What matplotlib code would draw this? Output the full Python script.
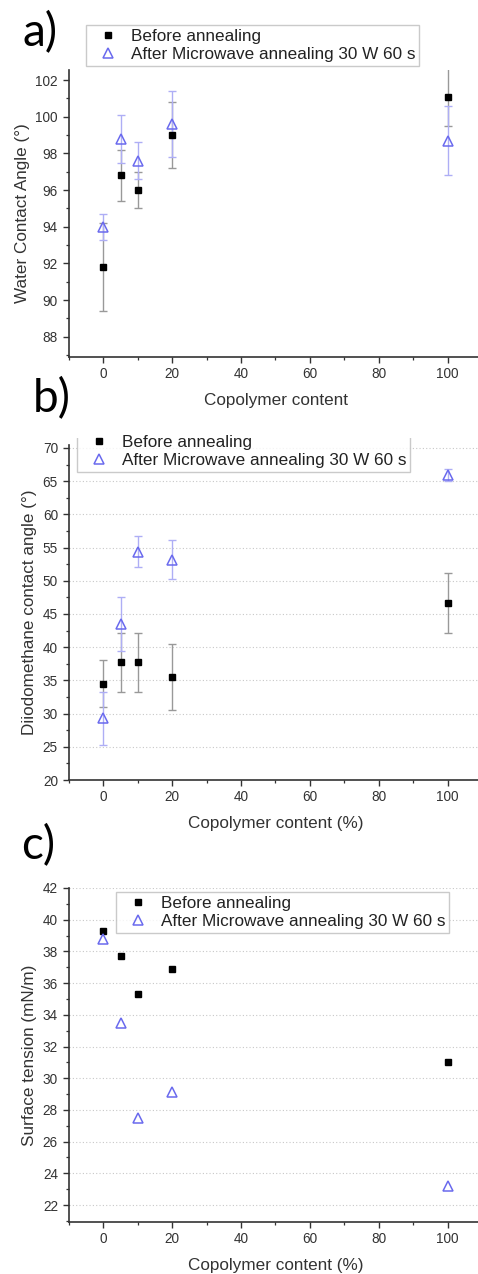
import matplotlib
matplotlib.use("Agg")
import matplotlib.pyplot as plt
from matplotlib.ticker import MultipleLocator
from matplotlib.transforms import Bbox, TransformedBbox
import numpy as np

plt.rcParams['font.family'] = ['Liberation Sans', 'DejaVu Sans']

x = [0, 5, 10, 20, 100]
lbl_before = 'Before annealing'
lbl_after = 'After Microwave annealing 30 W 60 s'

# a) water contact angle
wca_before = [91.8, 96.8, 96.0, 99.0, 101.1]
wca_before_err = [2.4, 1.4, 1.0, 1.8, 1.6]
wca_after = [94.0, 98.8, 97.6, 99.6, 98.7]
wca_after_err = [0.7, 1.3, 1.0, 1.8, 1.9]

# b) diiodomethane contact angle
dim_before = [34.5, 37.7, 37.7, 35.5, 46.6]
dim_before_err = [3.5, 4.5, 4.5, 5.0, 4.5]
dim_after = [29.3, 43.5, 54.4, 53.2, 66.0]
dim_after_err = [4.0, 4.0, 2.3, 3.0, 0.9]

# c) surface tension
st_before = [39.3, 37.7, 35.3, 36.9, 31.0]
st_after = [38.8, 33.5, 27.5, 29.1, 23.2]

blk = 'black'
blue = '#6a6aee'
ebar_blk = '#999999'
ebar_blue = '#aeaef5'
axcol = '#333333'

fig = plt.figure(figsize=(4.78, 12.74), dpi=100)
W, H = 478, 1274

def make_ax(left, top, bottom, right=482):
    return fig.add_axes([left / W, 1 - bottom / H, (right - left) / W, (bottom - top) / H])

def style(ax, ymaj, ymin, grid):
    ax.set_xlim(-10, 110)
    ax.xaxis.set_major_locator(MultipleLocator(20))
    ax.xaxis.set_minor_locator(MultipleLocator(10))
    ax.yaxis.set_major_locator(MultipleLocator(ymaj))
    ax.yaxis.set_minor_locator(MultipleLocator(ymin))
    for s in ['top', 'right']:
        ax.spines[s].set_visible(False)
    for s in ['left', 'bottom']:
        ax.spines[s].set_color(axcol)
        ax.spines[s].set_linewidth(1.2)
    ax.tick_params(which='major', direction='out', length=4, width=1, color=axcol,
                   labelsize=9.8, labelcolor='#333333')
    ax.tick_params(axis='y', which='major', pad=4)
    ax.tick_params(axis='x', which='major', pad=3.5)
    ax.tick_params(which='minor', direction='out', length=2.5, width=0.9, color=axcol)
    if grid:
        ax.yaxis.grid(True, which='major', linestyle=(0, (1, 2)), color='#c8c8c8', linewidth=0.8)
        ax.set_axisbelow(True)

def points(ax, yb, ya, eb=None, ea=None):
    if eb is not None:
        ax.errorbar(x, yb, yerr=eb, fmt='none', ecolor=ebar_blk, elinewidth=1.0,
                    capsize=2.8, capthick=1.0)
        ax.errorbar(x, ya, yerr=ea, fmt='none', ecolor=ebar_blue, elinewidth=1.0,
                    capsize=2.8, capthick=1.0)
    ax.plot(x, yb, 's', color=blk, markersize=5, linestyle='none', label=lbl_before)
    ax.plot(x, ya, '^', markerfacecolor='none', markeredgecolor=blue, markeredgewidth=1.1,
            markersize=7, linestyle='none', label=lbl_after)

def legend(ax, x0, y0):
    leg = ax.legend(loc='upper left', bbox_to_anchor=(x0 / W, 1 - y0 / H),
                    bbox_transform=fig.transFigure, fontsize=12.3, frameon=True,
                    fancybox=False, edgecolor='#bdbdbd', handlelength=2.1,
                    handletextpad=0.3, borderpad=0.22, labelspacing=0.2,
                    borderaxespad=0, markerscale=1.0)
    leg.get_frame().set_linewidth(1.0)
    for t in leg.get_texts():
        t.set_color('#222222')
    return leg

def labels(ax, ylab, xlab):
    ax.set_ylabel(ylab, fontsize=12.3, color='#333333', labelpad=4)
    ax.set_xlabel(xlab, fontsize=12.3, color='#333333', labelpad=8)

# panel a
ax1 = make_ax(69, 70, 357)
style(ax1, 2, 1, False)
points(ax1, wca_before, wca_after, wca_before_err, wca_after_err)
ax1.set_ylim(86.9, 102.55)
labels(ax1, 'Water Contact Angle (°)', 'Copolymer content')
legend(ax1, 86, 25)

# panel b
ax2 = make_ax(69, 445, 780)
style(ax2, 5, 2.5, True)
points(ax2, dim_before, dim_after, dim_before_err, dim_after_err)
ax2.set_ylim(20, 70.45)
labels(ax2, 'Diiodomethane contact angle (°)', 'Copolymer content (%)')
leg2 = legend(ax2, 77, 431)
leg2.get_frame().set_clip_on(True)
leg2.get_frame().set_clip_box(TransformedBbox(Bbox([[0, 0], [1, 1 - 438 / H]]), fig.transFigure))

# panel c
ax3 = make_ax(69, 888, 1222)
style(ax3, 2, 1, True)
points(ax3, st_before, st_after)
ax3.set_ylim(20.93, 42)
labels(ax3, 'Surface tension (mN/m)', 'Copolymer content (%)')
legend(ax3, 116, 892)

# panel letters
for lab, px, py in [('a)', 40, 33), ('b)', 52, 399), ('c)', 38, 846)]:
    fig.text(px / W, 1 - py / H, lab, fontsize=33, family=['Lato', 'DejaVu Sans'],
             ha='center', va='center', color='black')

fig.savefig('out.png', dpi=100)
